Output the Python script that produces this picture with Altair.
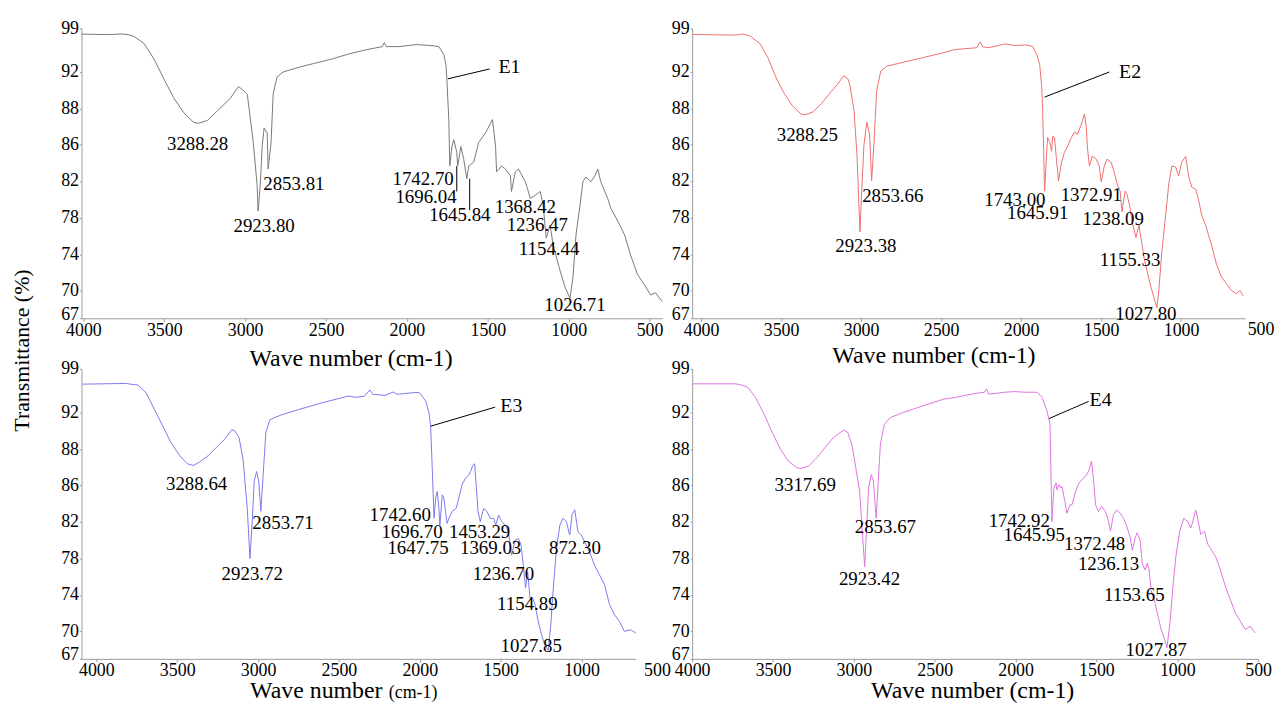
import altair as alt
import pandas as pd

FONT = "Liberation Serif"

y_ticks = [67, 70, 74, 78, 82, 86, 88, 92, 99]
x_ticks = [4000, 3500, 3000, 2500, 2000, 1500, 1000, 500]

# ---- E1 (grey) : (wavenumber, transmittance)
e1_points = [
    (4012, 98.07), (3828, 98.0), (3767, 98.1), (3724, 98.0), (3687, 97.7), (3626, 96.6), (3564, 94.1),
    (3503, 91.26), (3441, 89.16), (3380, 87.78), (3319, 87.24), (3288, 87.19), (3233, 87.35), (3171, 87.89),
    (3091, 89.16), (3042, 90.42), (3018, 90.1), (2987, 89.58), (2969, 87.51), (2950, 86.11), (2926, 81.48),
    (2920, 78.75), (2907, 81.48), (2895, 85.78), (2883, 86.92), (2864, 86.65), (2858, 83.3), (2840, 86.1),
    (2827, 89.58), (2803, 91.47), (2766, 92.0), (2662, 92.81), (2459, 94.12), (2355, 94.93), (2250, 95.58),
    (2152, 96.07), (2140, 96.72), (2128, 96.07), (2048, 96.07), (1943, 96.4), (1845, 96.23), (1802, 96.07),
    (1772, 94.77), (1759, 93.14), (1753, 91.16), (1741, 87.35), (1735, 83.62), (1722, 85.78), (1710, 86.27),
    (1692, 85.14), (1686, 83.62), (1667, 85.78), (1649, 84.38), (1630, 82.22), (1618, 83.62), (1587, 84.06),
    (1557, 86.11), (1514, 86.65), (1483, 87.19), (1471, 87.4), (1452, 85.78), (1446, 82.98), (1415, 83.62),
    (1391, 83.3), (1360, 82.54), (1354, 80.85), (1330, 82.98), (1311, 83.3), (1268, 81.9), (1237, 80.11),
    (1207, 80.43), (1176, 80.85), (1158, 79.38), (1139, 75.78), (1115, 77.22), (1096, 75.0), (1053, 72.16),
    (1022, 70.33), (992, 69.16), (973, 71.57), (955, 76.11), (930, 79.38), (912, 81.9), (894, 82.42),
    (863, 81.9), (838, 82.54), (820, 83.3), (802, 81.9), (759, 80.11), (740, 79.06), (697, 77.67),
    (654, 76.11), (617, 73.89), (574, 71.73), (532, 70.65), (495, 69.52), (464, 69.76), (421, 68.8),
]
e1_labels = [
    ("3288.28", 3294, 86.0), ("2923.80", 2883, 77.11), ("2853.81", 2699, 81.69), ("1742.70", 1900, 82.22),
    ("1696.04", 1882, 80.2), ("1645.84", 1673, 78.3), ("1368.42", 1268, 79.16), ("1236.47", 1194, 77.2),
    ("1154.44", 1121, 74.55), ("1026.71", 961, 68.44),
]
e1_name = ("E1", 1366, 92.81)
e1_leaders = [(1747, 91.26, 1489, 92.49), (1692, 83.62, 1692, 80.85), (1612, 82.22, 1612, 78.84)]

# ---- E2 (red)
e2_points = [
    (4053, 98.02), (3784, 97.91), (3739, 98.1), (3696, 97.80), (3631, 96.51), (3580, 94.18), (3528, 91.24),
    (3479, 89.62), (3429, 88.32), (3376, 87.71), (3350, 87.66), (3299, 87.83), (3249, 88.54), (3199, 89.62),
    (3146, 90.7), (3108, 91.6), (3082, 91.24), (3069, 90.49), (3044, 87.89), (3026, 84.92), (3007, 76.49),
    (2995, 81.33), (2982, 86.0), (2964, 87.26), (2947, 86.57), (2934, 82.0), (2920, 86.0), (2903, 89.95),
    (2877, 92.15), (2839, 92.93), (2737, 93.56), (2610, 94.33), (2482, 95.11), (2417, 95.58), (2355, 95.73),
    (2277, 95.89), (2256, 96.82), (2239, 96.04), (2200, 95.89), (2151, 96.2), (2101, 96.51), (2039, 96.24),
    (1971, 96.35), (1927, 96.09), (1902, 94.78), (1884, 93.24), (1871, 90.38), (1865, 87.89), (1859, 85.24),
    (1853, 80.89), (1840, 85.14), (1834, 86.4), (1822, 86.17), (1809, 85.24), (1803, 86.46), (1791, 86.4),
    (1778, 84.16), (1766, 82.0), (1747, 84.05), (1729, 85.14), (1710, 85.78), (1685, 86.4), (1667, 86.69),
    (1648, 86.57), (1623, 87.14), (1617, 87.31), (1604, 87.71), (1592, 86.97), (1586, 85.78), (1573, 83.62),
    (1555, 84.7), (1530, 84.38), (1511, 83.62), (1499, 81.89), (1480, 83.62), (1462, 84.38), (1437, 84.05),
    (1418, 82.97), (1400, 81.67), (1381, 80.89), (1369, 78.67), (1350, 80.89), (1338, 80.56), (1319, 79.11),
    (1307, 77.68), (1282, 75.84), (1263, 77.24), (1251, 75.84), (1232, 73.68), (1213, 72.16), (1189, 70.43),
    (1171, 69.31), (1151, 68.15), (1139, 70.0), (1120, 74.32), (1096, 78.33), (1077, 81.67), (1058, 83.62),
    (1034, 83.51), (1015, 82.54), (996, 84.05), (971, 84.7), (953, 82.54), (934, 81.33), (909, 81.11),
    (891, 80.0), (872, 78.33), (847, 77.24), (829, 76.16), (810, 75.08), (779, 72.92), (748, 71.51),
    (717, 70.76), (685, 70.0), (655, 69.65), (631, 70.0), (613, 69.42),
]
e2_labels = [
    ("3288.25", 3336, 86.52), ("2923.38", 2970, 74.87), ("2853.66", 2802, 80.33), ("1743.00", 2039, 79.9),
    ("1645.91", 1896, 78.56), ("1372.91", 1561, 80.44), ("1238.09", 1424, 77.89), ("1155.33", 1319, 73.35),
    ("1027.80", 1220, 67.46),
]
e2_name = ("E2", 1319, 92.0)
e2_leaders = [(1853, 89.27, 1449, 92.0)]

# ---- E3 (blue)
e3_points = [
    (4086, 96.56), (3819, 96.67), (3742, 96.4), (3693, 95.2), (3641, 92.49), (3589, 90.52), (3540, 88.76),
    (3484, 87.64), (3437, 87.19), (3398, 87.1), (3361, 87.3), (3309, 87.64), (3258, 88.22), (3208, 89.08),
    (3162, 90.16), (3144, 90.0), (3118, 89.3), (3093, 87.46), (3067, 83.45), (3050, 78.0), (3034, 82.7),
    (3024, 86.22), (3009, 86.76), (2996, 86.22), (2983, 83.11), (2965, 87.1), (2952, 89.84), (2927, 91.24),
    (2852, 91.78), (2749, 92.49), (2596, 93.63), (2496, 94.28), (2443, 94.65), (2393, 94.44), (2342, 94.65),
    (2308, 95.63), (2291, 94.93), (2214, 94.77), (2164, 95.3), (2140, 94.93), (2035, 95.21), (2004, 95.21),
    (1963, 93.84), (1943, 91.96), (1933, 90.52), (1923, 86.92), (1912, 82.34), (1902, 84.56), (1892, 85.3),
    (1882, 83.45), (1876, 81.6), (1861, 84.92), (1851, 84.56), (1841, 83.08), (1831, 81.78), (1820, 82.33),
    (1800, 83.08), (1775, 83.45), (1759, 84.56), (1739, 86.02), (1718, 86.38), (1698, 86.56), (1687, 86.74),
    (1673, 87.1), (1661, 87.19), (1653, 86.2), (1640, 83.08), (1626, 81.97), (1605, 83.45), (1585, 83.08),
    (1564, 82.33), (1544, 82.33), (1530, 81.6), (1513, 82.7), (1493, 81.97), (1472, 81.6), (1452, 80.89),
    (1432, 78.36), (1411, 79.98), (1390, 80.16), (1374, 79.44), (1360, 77.28), (1346, 74.76), (1333, 76.56),
    (1319, 73.67), (1304, 73.67), (1288, 72.93), (1268, 71.08), (1247, 69.59), (1227, 68.48), (1206, 67.92),
    (1190, 70.74), (1176, 74.4), (1155, 79.08), (1134, 81.6), (1114, 82.33), (1094, 81.97), (1073, 80.53),
    (1059, 82.7), (1042, 83.28), (1022, 80.89), (1002, 80.53), (981, 79.81), (950, 78.72), (920, 77.28),
    (889, 76.2), (858, 75.12), (827, 72.93), (797, 71.82), (766, 71.08), (735, 69.97), (695, 70.14), (664, 69.78),
]
e3_labels = [
    ("3288.64", 3380, 86.06), ("2923.72", 3036, 76.27), ("2853.71", 2846, 81.78), ("1742.60", 2121, 82.67),
    ("1696.70", 2048, 80.81), ("1647.75", 2011, 79.08), ("1453.29", 1630, 80.81), ("1369.03", 1562, 79.08),
    ("1236.70", 1483, 76.27), ("1154.89", 1335, 73.0), ("1027.85", 1311, 68.33), ("872.30", 1041, 79.08),
]
e3_name = ("E3", 1434, 92.98)
e3_leaders = [(1933, 90.52, 1534, 92.88)]

# ---- E4 (violet)
e4_points = [
    (3997, 96.61), (3732, 96.61), (3706, 96.5), (3657, 96.07), (3608, 94.44), (3555, 91.82), (3505, 89.84),
    (3455, 88.03), (3406, 87.35), (3353, 86.97), (3328, 86.93), (3278, 87.07), (3228, 87.54), (3177, 88.22),
    (3126, 89.3), (3063, 90.09), (3038, 89.84), (3013, 88.58), (2988, 86.97), (2964, 85.3), (2952, 81.97),
    (2933, 77.11), (2921, 81.28), (2909, 85.67), (2892, 86.59), (2879, 86.21), (2862, 82.33), (2849, 86.21),
    (2836, 88.58), (2811, 90.74), (2774, 91.46), (2697, 92.0), (2572, 93.09), (2445, 94.16), (2369, 94.44),
    (2320, 94.72), (2243, 95.09), (2193, 95.26), (2179, 95.8), (2167, 94.98), (2118, 95.09), (2069, 95.26),
    (2008, 95.37), (1940, 95.26), (1867, 95.26), (1836, 94.44), (1806, 92.28), (1787, 90.74), (1781, 86.59),
    (1775, 81.97), (1763, 85.67), (1750, 86.12), (1744, 85.48), (1732, 86.02), (1720, 85.67), (1713, 85.86),
    (1695, 84.19), (1683, 82.89), (1664, 83.81), (1652, 83.81), (1628, 85.3), (1609, 86.11), (1591, 86.3),
    (1566, 86.5), (1548, 86.78), (1530, 87.35), (1517, 86.21), (1505, 83.81), (1487, 83.08), (1468, 83.64),
    (1444, 83.08), (1425, 81.97), (1413, 80.94), (1395, 82.7), (1376, 83.25), (1352, 82.89), (1333, 82.33),
    (1315, 81.62), (1291, 80.26), (1278, 78.89), (1260, 80.26), (1248, 80.77), (1229, 79.92), (1217, 77.48),
    (1199, 76.74), (1186, 77.48), (1174, 76.74), (1162, 74.52), (1137, 73.06), (1119, 71.62), (1100, 70.18),
    (1076, 68.98), (1064, 68.18), (1045, 70.97), (1027, 74.89), (1009, 78.21), (985, 80.94), (960, 82.33),
    (935, 81.97), (917, 81.28), (904, 81.97), (886, 83.25), (874, 82.33), (855, 80.59), (831, 80.94),
    (812, 79.57), (794, 79.06), (763, 78.21), (733, 76.74), (702, 74.89), (671, 73.43), (641, 71.99),
    (610, 71.08), (579, 70.18), (549, 70.54), (518, 69.8),
]
e4_labels = [
    ("3317.69", 3301, 86.0), ("2923.42", 2903, 75.78), ("2853.67", 2805, 81.38), ("1742.92", 1977, 82.0),
    ("1645.95", 1885, 80.56), ("1372.48", 1511, 79.54), ("1236.13", 1425, 77.45), ("1153.65", 1266, 74.0),
    ("1027.87", 1131, 67.96),
]
e4_name = ("E4", 1474, 93.95)
e4_leaders = [(1793, 91.35, 1548, 93.8)]

H = 294
Y_RANGE = [294, 266, 229.5, 193, 155.5, 119, 83, 46, 2]


def panel(points, labels, name, leaders, color, width, dom, xtitle, title_x, title_y,
          ytitle=False, extra_ticks=(), extra_dx=0, small_title=None):
    xs = alt.Scale(domain=dom, reverse=True, nice=False, zero=False)
    ys = alt.Scale(domain=y_ticks, range=Y_RANGE, nice=False, zero=False)
    xaxis = alt.Axis(values=x_ticks, tickCount=30, format="d", title=xtitle, titleX=title_x, titleY=title_y,
                     titleBaseline="alphabetic", titleFontSize=24, titleFont=FONT, labelFont=FONT,
                     labelFontSize=18, labelFlush=False, labelOverlap=False, tickSize=3, labelPadding=0)
    ykw = dict(values=y_ticks, tickCount=30, format="d", labelFont=FONT, labelFontSize=18,
               labelFlush=False, labelOverlap=False, tickSize=2, labelPadding=1,
               labelOffset={"condition": {"test": "datum.value === 67", "value": -4}, "value": 0})
    if ytitle:
        yaxis = alt.Axis(title="Transmittance (%)", titleX=-53, titleY=326, titleBaseline="alphabetic",
                         titleFont=FONT, titleFontSize=22, titleAngle=270, titleAlign="center", **ykw)
    else:
        yaxis = alt.Axis(title=None, **ykw)

    df = pd.DataFrame(points, columns=["wn", "t"])
    line = alt.Chart(df).mark_line(color=color, strokeWidth=1).encode(
        x=alt.X("wn:Q", scale=xs, axis=xaxis), y=alt.Y("t:Q", scale=ys, axis=yaxis))
    lead = alt.Chart(pd.DataFrame(leaders, columns=["wn", "t", "wn2", "t2"])).mark_rule(
        color="black", strokeWidth=1).encode(x="wn:Q", y="t:Q", x2="wn2", y2="t2")
    lab = alt.Chart(pd.DataFrame(labels, columns=["text", "wn", "t"])).mark_text(
        font=FONT, fontSize=19, color="black").encode(x="wn:Q", y="t:Q", text="text:N")
    nm = alt.Chart(pd.DataFrame([name], columns=["text", "wn", "t"])).mark_text(
        font=FONT, fontSize=20, color="black").encode(x="wn:Q", y="t:Q", text="text:N")
    layers = [line, lead, lab, nm]
    if extra_ticks:
        et = pd.DataFrame({"wn": list(extra_ticks), "text": [str(v) for v in extra_ticks]})
        layers.append(alt.Chart(et).mark_text(font=FONT, fontSize=18, baseline="top", color="black",
                                              dx=extra_dx)
                      .encode(x="wn:Q", y=alt.value(H + 3), text="text:N"))
    if small_title:
        st = pd.DataFrame({"text": [small_title[0]]})
        layers.append(alt.Chart(st).mark_text(font=FONT, fontSize=18, baseline="alphabetic", color="black")
                      .encode(x=alt.value(small_title[1]), y=alt.value(H + small_title[2]), text="text:N"))
    return alt.layer(*layers).properties(width=width, height=H)


tl = panel(e1_points, e1_labels, e1_name, e1_leaders, "#7a7a7a", 585, [421, 4012],
           "Wave number (cm-1)", 271, 48, ytitle=True)
tr = panel(e2_points, e2_labels, e2_name, e2_leaders, "#ef6f6f", 557, [599, 4056],
           "Wave number (cm-1)", 243, 45, extra_ticks=[500])
bl = panel(e3_points, e3_labels, e3_name, e3_leaders, "#7b7bef", 558, [666, 4092],
           "Wave number", 236, 39, extra_ticks=[500], extra_dx=-5, small_title=("(cm-1)", 334, 39))
br = panel(e4_points, e4_labels, e4_name, e4_leaders, "#df75df", 570, [500, 4000],
           "Wave number (cm-1)", 282, 39)

chart = alt.concat(tl, tr, bl, br, columns=2, spacing={"row": 49, "column": 30}, bounds="flush").properties(
    padding={"left": 3, "top": 9, "right": 2, "bottom": 0}
).configure_view(stroke=None).configure_axis(
    domainColor="#9a9a9a", tickColor="#9a9a9a", labelFont=FONT, labelFontSize=18, labelColor="black",
    titleFont=FONT, titleColor="black", titleFontWeight="normal", grid=False
).configure_text(font=FONT)

chart.save("out.html", embed_options={"renderer": "svg", "actions": False})
